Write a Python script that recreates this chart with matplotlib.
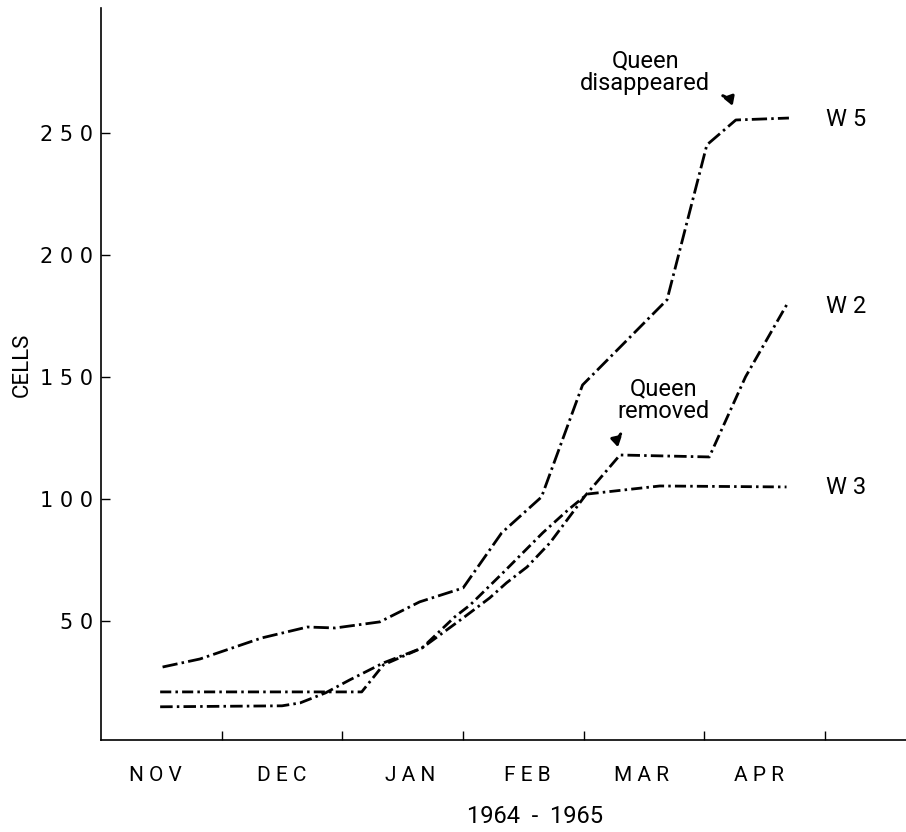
import numpy as np
import matplotlib
matplotlib.use("Agg")
import matplotlib.pyplot as plt
from matplotlib.transforms import blended_transform_factory

# ///---- datos (x en meses desde el 1 de noviembre, y en celdas) ----///
w5_mes = [0.51, 0.82, 1.33, 1.71, 1.94, 2.31, 2.64, 3.00, 3.32, 3.65, 3.99, 4.69, 5.02, 5.26, 5.70]
w5_cel = [31.1, 34.4, 43.0, 47.5, 47.1, 49.6, 57.8, 63.5, 86.1, 100.8, 146.7, 181.6, 245.1, 255.3, 256.1]

w3_mes = [0.49, 2.16, 2.34, 2.66, 2.93, 3.06, 3.33, 3.66, 3.87, 4.03, 4.63, 5.68]
w3_cel = [20.9, 20.9, 32.0, 38.9, 51.6, 56.6, 69.7, 86.1, 95.5, 102.0, 105.3, 104.9]

w2_mes = [0.49, 1.50, 1.65, 1.86, 2.06, 2.34, 2.66, 3.00, 3.22, 3.36, 3.53, 3.72, 4.01, 4.30, 5.04, 5.34, 5.69]
w2_cel = [14.8, 15.2, 16.4, 20.5, 25.8, 32.8, 38.9, 51.2, 59.4, 65.6, 72.1, 82.0, 101.2, 118.0, 117.2, 150.0, 180.3]

meses = ['N O V', 'D E C', 'J A N', 'F E B', 'M A R', 'A P R']
meses_x = [0.45, 1.50, 2.56, 3.53, 4.48, 5.45]
yticks = [50, 100, 150, 200, 250]
ytick_labels = ['5 0', '1 0 0', '1 5 0', '2 0 0', '2 5 0']

angosta = ['Roboto', 'DejaVu Sans']

# ///---- figura ----///
fig = plt.figure(figsize=(9.06, 8.32), dpi=100)
ax = fig.add_axes([0.1115, 0.1106, 0.8885, 0.8798])

lw = 2.0
ax.plot(w5_mes, w5_cel, color='black', lw=lw, linestyle=(0, (5.5, 1.5, 0.9, 1.5)))
ax.plot(w2_mes, w2_cel, color='black', lw=lw, linestyle=(0, (4.5, 1.5, 0.9, 1.5)))
ax.plot(w3_mes, w3_cel, color='black', lw=lw, linestyle=(0, (4.0, 1.5, 0.9, 1.5)))

ax.set_xlim(0, 6.67)
ax.set_ylim(1.2, 301.2)

for s in ['top', 'right']:
    ax.spines[s].set_visible(False)
for s in ['left', 'bottom']:
    ax.spines[s].set_linewidth(1.2)

ax.set_xticks([1, 2, 3, 4, 5, 6])
ax.set_xticklabels([])
ax.set_yticks(yticks)
ax.set_yticklabels(ytick_labels, fontsize=15, family='DejaVu Sans')
ax.tick_params(direction='in', length=6.5, width=1.0, pad=6)

# etiquetas de meses
tr = blended_transform_factory(ax.transData, ax.transAxes)
for x, m in zip(meses_x, meses):
    ax.text(x, -0.049, m, transform=tr, ha='center', va='center',
            fontsize=15, family=angosta)
ax.text(3.6, -0.105, '1964  -  1965', transform=tr, ha='center', va='center',
        fontsize=17, family=angosta)
fig.text(22 / 906, 0.561, 'CELLS', rotation=90, ha='center', va='center',
         fontsize=16, family=angosta)

# etiquetas de las series
for y, t in [(255.3, 'W 5'), (178.7, 'W 2'), (104.5, 'W 3')]:
    ax.text(6.17, y, t, ha='center', va='center', fontsize=17, family=angosta)

# anotaciones
ax.text(4.51, 275, 'Queen\ndisappeared', ha='center', va='center',
        fontsize=17, family=angosta, linespacing=1.0)
ax.annotate('', xy=(5.24, 260), xytext=(5.13, 265.6),
            arrowprops=dict(arrowstyle='-|>,head_length=0.5,head_width=0.3',
                            color='black', lw=2.2,
                            connectionstyle='arc3,rad=-0.3'))
ax.text(4.66, 140.6, 'Queen\nremoved', ha='center', va='center',
        fontsize=17, family=angosta, linespacing=1.0)
ax.annotate('', xy=(4.29, 120.1), xytext=(4.32, 127.5),
            arrowprops=dict(arrowstyle='-|>,head_length=0.5,head_width=0.3',
                            color='black', lw=2.2,
                            connectionstyle='arc3,rad=0.3'))

fig.savefig('out.png', dpi=100)
